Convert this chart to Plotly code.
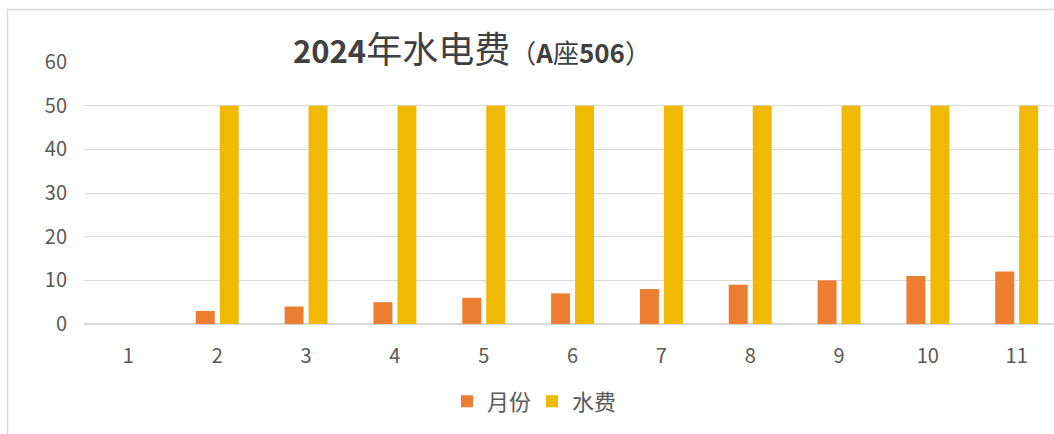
import plotly.graph_objects as go

categories = ["1", "2", "3", "4", "5", "6", "7", "8", "9", "10", "11"]
month_values = [None, 3, 4, 5, 6, 7, 8, 9, 10, 11, 12]
water_values = [None, 50, 50, 50, 50, 50, 50, 50, 50, 50, 50]
y_ticks = [0, 10, 20, 30, 40, 50, 60]

FONT = "Noto Sans CJK SC, Noto Sans, sans-serif"

fig = go.Figure()
fig.add_trace(go.Bar(name="月份", x=categories, y=month_values,
                     marker=dict(color="#ED7D31", line=dict(width=0))))
fig.add_trace(go.Bar(name="水费", x=categories, y=water_values,
                     marker=dict(color="#F0BA00", line=dict(width=0))))

L, R, T, B = 84, 0, 62, 109.5
W, H = 1054, 434
pw = W - L - R
ph = H - T - B

def px_x(p):
    return (p - L) / pw

def px_y(p):
    return (H - B - p) / ph

fig.update_layout(
    width=W, height=H,
    margin=dict(l=L, r=R, t=T, b=B, pad=0),
    paper_bgcolor="white", plot_bgcolor="white",
    barmode="group", bargap=0.46, bargroupgap=0.21,
    font=dict(family=FONT, color="#595959", size=20),
    showlegend=True,
    legend=dict(orientation="h", x=px_x(532), y=px_y(402), xanchor="center",
                yanchor="middle", font=dict(size=22, color="#595959"),
                itemwidth=30, entrywidth=40, entrywidthmode="pixels",
                traceorder="normal", bgcolor="rgba(0,0,0,0)"),
    xaxis=dict(type="category", range=[-0.5, 10.42], showgrid=False,
               showline=False, ticks="", zeroline=False,
               tickfont=dict(size=20, color="#595959"), ticklabelstandoff=18),
    yaxis=dict(range=[0, 60], tickvals=y_ticks, showgrid=True,
               gridcolor="#D9D9D9", gridwidth=1, zeroline=True,
               zerolinecolor="#D9D9D9", zerolinewidth=1.5, showline=False,
               ticks="", tickfont=dict(size=20, color="#595959"),
               ticklabelstandoff=16),
    annotations=[
        dict(xref="paper", yref="paper", x=px_x(291), y=px_y(47),
             xanchor="left", yanchor="middle", showarrow=False,
             text=("<b>2024</b><span style='font-size:36px'>年水电费</span>"
                   "<span style='font-size:26px'>（<b>A</b>座<b>506</b>）</span>"),
             font=dict(size=31, color="#404040", family=FONT)),
    ],
    shapes=[
        dict(type="rect", xref="paper", yref="paper",
             x0=px_x(7.5), x1=px_x(1070), y0=px_y(9.5), y1=px_y(445),
             line=dict(color="#D9D9D9", width=1.5), layer="below"),
    ],
)

fig.write_html("out.html", config={"displayModeBar": False},
               post_script="document.body.style.margin='0';document.body.style.overflow='hidden';")
